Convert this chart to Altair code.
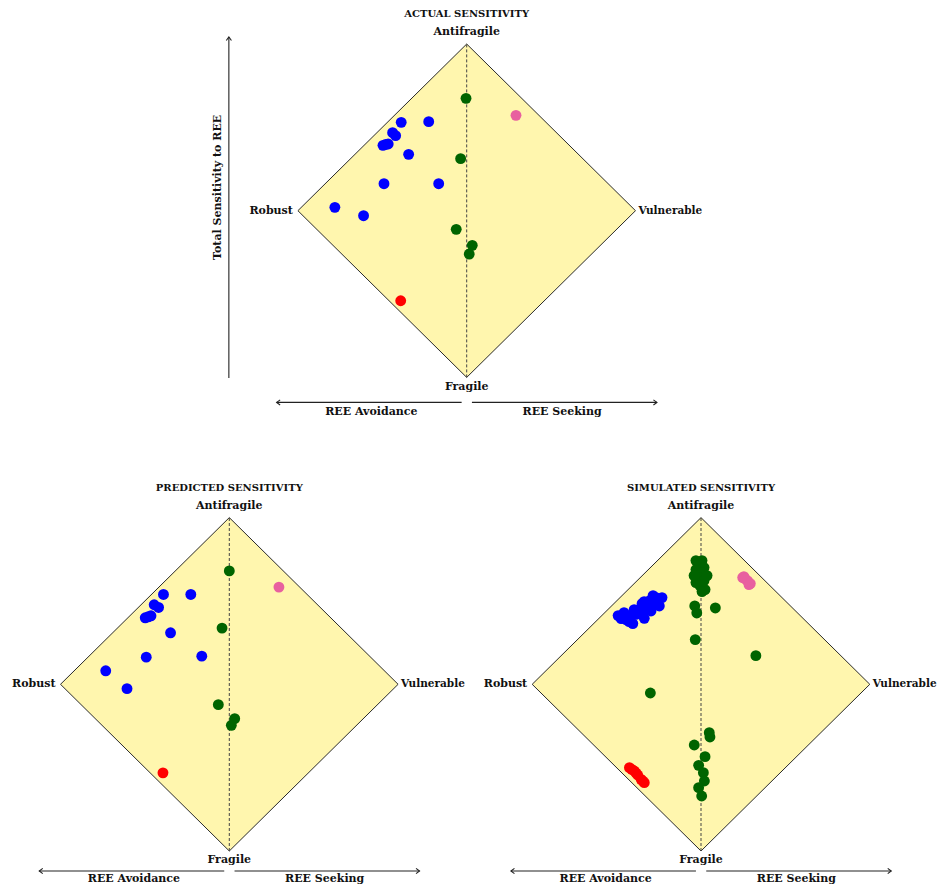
import altair as alt
import pandas as pd

# ---------------- data (diamond-normalised coordinates: x = avoidance(-)/seeking(+), y = fragile(-)/antifragile(+))
ACT_BLUE_X = [-0.388, -0.225, -0.439, -0.421, -0.496, -0.465, -0.480, -0.344, -0.490, -0.166, -0.781, -0.611]
ACT_BLUE_Y = [0.530, 0.534, 0.468, 0.450, 0.392, 0.400, 0.397, 0.338, 0.162, 0.162, 0.020, -0.030]
ACT_GREEN_X = [-0.004, -0.036, -0.062, 0.033, 0.015]
ACT_GREEN_Y = [0.674, 0.312, -0.112, -0.208, -0.260]
ACT_PINK_X = [0.292]
ACT_PINK_Y = [0.572]
ACT_RED_X = [-0.391]
ACT_RED_Y = [-0.540]

PRED_BLUE_X = [-0.390, -0.228, -0.445, -0.419, -0.498, -0.464, -0.480, -0.348, -0.492, -0.163, -0.732, -0.606]
PRED_BLUE_Y = [0.539, 0.539, 0.477, 0.461, 0.399, 0.411, 0.405, 0.309, 0.163, 0.169, 0.081, -0.026]
PRED_GREEN_X = [0.000, -0.043, -0.065, 0.032, 0.012]
PRED_GREEN_Y = [0.680, 0.337, -0.122, -0.206, -0.246]
PRED_PINK_X = [0.294]
PRED_PINK_Y = [0.583]
PRED_RED_X = [-0.393]
PRED_RED_Y = [-0.531]

SIM_BLUE_X = [-0.473, -0.404, -0.336, -0.365, -0.306, -0.266, -0.247, -0.296, -0.434, -0.385, -0.278, -0.325,
              -0.491, -0.349, -0.231, -0.444, -0.456, -0.355, -0.314, -0.266, -0.284, -0.337, -0.396, -0.426]
SIM_BLUE_Y = [0.394, 0.364, 0.396, 0.450, 0.500, 0.520, 0.470, 0.440, 0.410, 0.420, 0.490, 0.472,
              0.412, 0.484, 0.520, 0.388, 0.430, 0.430, 0.448, 0.496, 0.532, 0.496, 0.448, 0.376]
SIM_GREEN_X = [-0.030, 0.006, -0.012, 0.018, -0.030, 0.006, -0.012, 0.018, -0.030, -0.006, 0.024, 0.006,
               0.036, -0.041,
               -0.037, -0.025, 0.085, -0.034, 0.325, -0.300,
               0.049, 0.053, -0.040, 0.024, -0.014, 0.014, 0.020, -0.014, 0.004]
SIM_GREEN_Y = [0.742, 0.742, 0.718, 0.700, 0.688, 0.670, 0.640, 0.622, 0.610, 0.592, 0.568, 0.556,
               0.652, 0.652,
               0.470, 0.428, 0.458, 0.268, 0.172, -0.052,
               -0.290, -0.316, -0.364, -0.434, -0.486, -0.530, -0.580, -0.620, -0.670]
SIM_PINK_X = [0.247, 0.254, 0.262, 0.276, 0.284, 0.292]
SIM_PINK_Y = [0.640, 0.646, 0.632, 0.620, 0.598, 0.604]
SIM_RED_X = [-0.424, -0.410, -0.395, -0.385, -0.375, -0.355, -0.345, -0.336]
SIM_RED_Y = [-0.500, -0.510, -0.520, -0.532, -0.544, -0.570, -0.580, -0.590]

TITLES = ["ACTUAL SENSITIVITY", "PREDICTED SENSITIVITY", "SIMULATED SENSITIVITY"]
CORNERS = ["Antifragile", "Fragile", "Robust", "Vulnerable"]
BOTTOM_LABELS = ["REE Avoidance", "REE Seeking"]
Y_LABEL = "Total Sensitivity to REE"

GROUPS = ["blue", "green", "pink", "red"]
GROUP_COLORS = ["#0000FF", "#006400", "#E8609F", "#FF0000"]
YELLOW = "#FFF6AE"
FONT = "DejaVu Serif"

KX, KY = 168.8, 166.7  # pixels per diamond unit


def points_df(xs_ys):
    rows = []
    for g, xs, ys in xs_ys:
        for x, y in zip(xs, ys):
            rows.append({"x": x, "y": y, "g": g})
    return pd.DataFrame(rows)


def panel(title, pts, cx, cy, left, right, top, bottom, ay, ly, yaxis=False):
    xdom = [(left - cx) / KX, (right - cx) / KX]
    ydom = [(cy - bottom) / KY, (cy - top) / KY]
    xs = alt.Scale(domain=xdom, nice=False, zero=False)
    ys = alt.Scale(domain=ydom, nice=False, zero=False)

    def X(f="x"):
        return alt.X(f"{f}:Q", scale=xs, axis=None)

    def Y(f="y"):
        return alt.Y(f"{f}:Q", scale=ys, axis=None)

    fill = alt.Chart(pd.DataFrame({"x": [-1, 0, 1], "y": [0, 1, 0], "y2": [0, -1, 0]})).mark_area(
        color=YELLOW, opacity=1).encode(x=X(), y=Y(), y2=alt.Y2("y2:Q"))
    outline = alt.Chart(pd.DataFrame({"x": [-1, 0, 1, 0, -1], "y": [0, 1, 0, -1, 0], "o": [0, 1, 2, 3, 4]})).mark_line(
        color="#2a2a2a", strokeWidth=1).encode(x=X(), y=Y(), order="o:Q")
    dash = alt.Chart(pd.DataFrame({"x": [0], "y": [-1], "y2": [1]})).mark_rule(
        color="#444444", strokeDash=[3, 2], strokeWidth=1).encode(x=X(), y=Y(), y2=alt.Y2("y2:Q"))
    dots = alt.Chart(pts).mark_circle(size=118, opacity=1).encode(
        x=X(), y=Y(),
        color=alt.Color("g:N", scale=alt.Scale(domain=GROUPS, range=GROUP_COLORS), legend=None))

    ttl = alt.Chart(pd.DataFrame({"x": [0], "y": [1.18], "t": [title]})).mark_text(
        font=FONT, fontSize=10, fontWeight="bold", color="#111", align="center", baseline="middle").encode(
        x=X(), y=Y(), text="t:N")
    center_lbl = alt.Chart(pd.DataFrame({
        "x": [0, 0, -0.565, 0.565],
        "y": [1.069, -1.056, ly, ly],
        "t": [CORNERS[0], CORNERS[1], BOTTOM_LABELS[0], BOTTOM_LABELS[1]]})).mark_text(
        font=FONT, fontSize=11, fontWeight="bold", color="#111", align="center", baseline="middle").encode(
        x=X(), y=Y(), text="t:N")
    robust = alt.Chart(pd.DataFrame({"x": [-1], "y": [0], "t": [CORNERS[2]]})).mark_text(
        font=FONT, fontSize=11, fontWeight="bold", color="#111", align="right", baseline="middle", dx=-5).encode(
        x=X(), y=Y(), text="t:N")
    vuln = alt.Chart(pd.DataFrame({"x": [1], "y": [0], "t": [CORNERS[3]]})).mark_text(
        font=FONT, fontSize=10.5, fontWeight="bold", color="#111", align="left", baseline="middle", dx=3).encode(
        x=X(), y=Y(), text="t:N")

    shafts = alt.Chart(pd.DataFrame({"x": [-1.126, 0.031], "x2": [-0.030, 1.127], "y": [ay, ay]})).mark_rule(
        color="#222", strokeWidth=1.1).encode(x=X(), x2=alt.X2("x2:Q"), y=Y())
    head_l = alt.Chart(pd.DataFrame({"x": [-1.126], "y": [ay]})).mark_point(
        shape="M 1.5 -1.1 L 0 0 L 1.5 1.1", filled=False, size=22, color="#222", strokeWidth=1.1, opacity=1).encode(
        x=X(), y=Y())
    head_r = alt.Chart(pd.DataFrame({"x": [1.127], "y": [ay]})).mark_point(
        shape="M -1.5 -1.1 L 0 0 L -1.5 1.1", filled=False, size=22, color="#222", strokeWidth=1.1, opacity=1).encode(
        x=X(), y=Y())

    layers = [fill, outline, dash, dots, ttl, center_lbl, robust, vuln, shafts, head_l, head_r]

    if yaxis:
        vx = -1.409
        vshaft = alt.Chart(pd.DataFrame({"x": [vx], "y": [-1.004], "y2": [1.042]})).mark_rule(
            color="#222", strokeWidth=1.1).encode(x=X(), y=Y(), y2=alt.Y2("y2:Q"))
        vhead = alt.Chart(pd.DataFrame({"x": [vx], "y": [1.042]})).mark_point(
            shape="M -1.1 1.5 L 0 0 L 1.1 1.5", filled=False, size=22, color="#222", strokeWidth=1.1,
            opacity=1).encode(x=X(), y=Y())
        vlabel = alt.Chart(pd.DataFrame({"x": [-1.474], "y": [0.14], "t": [Y_LABEL]})).mark_text(
            font=FONT, fontSize=11, fontWeight="bold", color="#111", align="center", baseline="middle",
            angle=270).encode(x=X(), y=Y(), text="t:N")
        layers += [vshaft, vhead, vlabel]

    return alt.layer(*layers).properties(width=right - left, height=bottom - top)


act = points_df([("blue", ACT_BLUE_X, ACT_BLUE_Y), ("green", ACT_GREEN_X, ACT_GREEN_Y),
                 ("pink", ACT_PINK_X, ACT_PINK_Y), ("red", ACT_RED_X, ACT_RED_Y)])
pred = points_df([("blue", PRED_BLUE_X, PRED_BLUE_Y), ("green", PRED_GREEN_X, PRED_GREEN_Y),
                  ("pink", PRED_PINK_X, PRED_PINK_Y), ("red", PRED_RED_X, PRED_RED_Y)])
sim = points_df([("blue", SIM_BLUE_X, SIM_BLUE_Y), ("green", SIM_GREEN_X, SIM_GREEN_Y),
                 ("pink", SIM_PINK_X, SIM_PINK_Y), ("red", SIM_RED_X, SIM_RED_Y)])

top = panel(TITLES[0], act, cx=466.7, cy=210.7, left=8, right=925, top=8, bottom=426,
            ay=-1.150, ly=-1.205, yaxis=True)
bl = panel(TITLES[1], pred, cx=229.3, cy=684.3, left=8, right=466, top=470, bottom=884,
           ay=-1.120, ly=-1.165)
br = panel(TITLES[2], sim, cx=701.0, cy=684.3, left=479, right=937, top=470, bottom=884,
           ay=-1.120, ly=-1.165)

chart = alt.vconcat(
    top,
    alt.hconcat(bl, br, spacing=13, bounds="flush"),
    spacing=44, bounds="flush",
).properties(padding=0).configure_view(stroke=None)

chart.save("out.html", embed_options={"renderer": "svg", "actions": False})
